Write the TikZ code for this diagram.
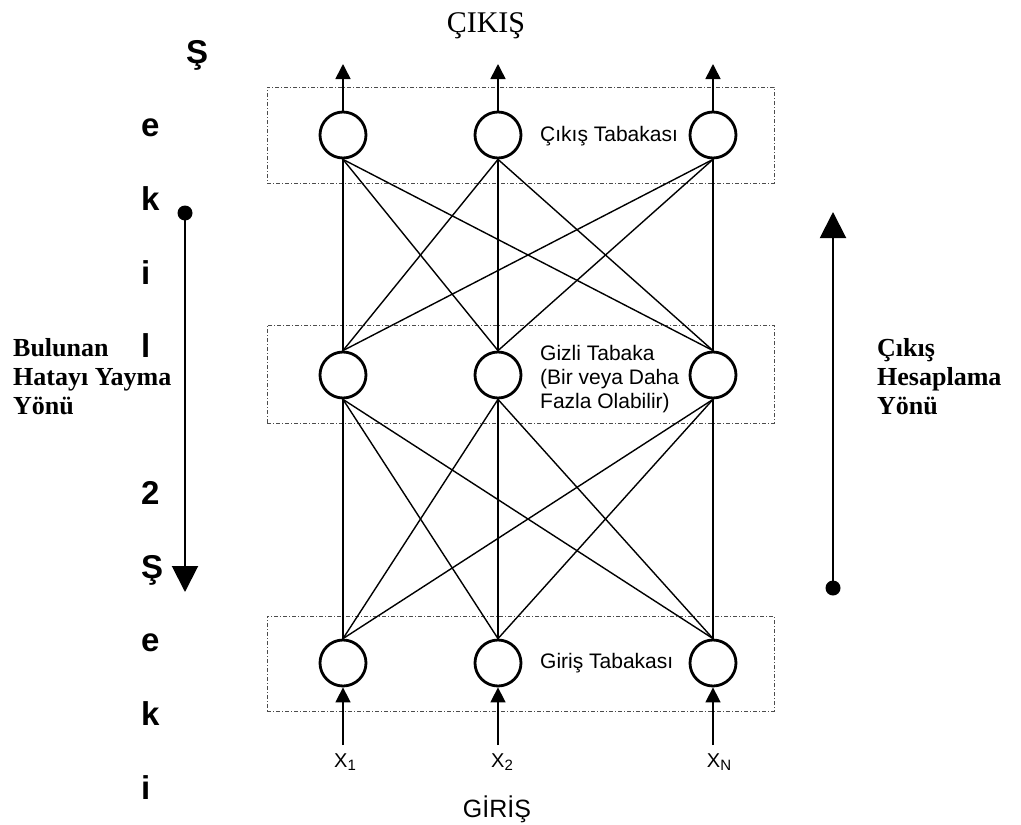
\documentclass[tikz,border=0pt]{standalone}
\usepackage{fontspec}
\setmainfont{Liberation Serif}
\newfontfamily\arialf{Liberation Sans}
\usetikzlibrary{arrows.meta}
\newcommand\lowsub[1]{\raisebox{-3pt}{\fontsize{15}{15}\selectfont #1}}
\begin{document}
\begin{tikzpicture}[x=1pt,y=-1pt,
 neuron/.style={circle,draw,line width=2.8pt,minimum size=46pt,inner sep=0pt,fill=white},
 link/.style={line width=1.4pt},
 layerbox/.style={draw=black!70,line width=0.7pt,dash pattern=on 4pt off 2pt on 1pt off 2pt,minimum width=507pt,inner sep=0pt},
 ioarrow/.style={line width=1.6pt,-{Triangle[length=15pt,width=15pt]}},
 bigarrow/.style={line width=2pt,-{Triangle[length=26pt,width=26pt]}},
 dotnode/.style={circle,fill=black,minimum size=15pt,inner sep=0pt},
 layerlabel/.style={font=\arialf\fontsize{21}{24}\selectfont,anchor=west,align=left,inner sep=0pt},
 xlabel/.style={font=\arialf\fontsize{20}{20}\selectfont,anchor=base,inner sep=0pt},
 vletter/.style={font=\arialf\bfseries\fontsize{33}{33}\selectfont,anchor=base west,inner sep=0pt},
 dirlabel/.style={font=\bfseries\fontsize{26}{29}\selectfont,anchor=north west,align=left,inner sep=0pt},
]
\useasboundingbox (0,0) rectangle (1021,825);

% layer boxes
\node[layerbox,minimum height=96pt] (bo) at (520.5,135) {};
\node[layerbox,minimum height=98pt] (bh) at (520.5,374) {};
\node[layerbox,minimum height=95pt] (bi) at (520.5,663.5) {};

% neurons
\node[neuron] (o1) at (343,135) {};
\node[neuron] (o2) at (498,135) {};
\node[neuron] (o3) at (713,135) {};
\node[neuron] (h1) at (343,375) {};
\node[neuron] (h2) at (498,375) {};
\node[neuron] (h3) at (713,375) {};
\node[neuron] (i1) at (343,663) {};
\node[neuron] (i2) at (498,663) {};
\node[neuron] (i3) at (713,663) {};

% connections
\foreach \a in {o1,o2,o3}{
  \foreach \b in {h1,h2,h3}{
    \draw[link] (\a.south) -- (\b.north);
  }
}
\foreach \a in {h1,h2,h3}{
  \foreach \b in {i1,i2,i3}{
    \draw[link] (\a.south) -- (\b.north);
  }
}

% output arrows
\coordinate (t1) at (343,64);
\coordinate (t2) at (498,64);
\coordinate (t3) at (713,64);
\draw[ioarrow] (o1.north) -- (t1);
\draw[ioarrow] (o2.north) -- (t2);
\draw[ioarrow] (o3.north) -- (t3);

% input arrows
\coordinate (s1) at (343,745);
\coordinate (s2) at (498,745);
\coordinate (s3) at (713,745);
\draw[ioarrow] (s1) -- (i1.south);
\draw[ioarrow] (s2) -- (i2.south);
\draw[ioarrow] (s3) -- (i3.south);

% layer labels
\node[layerlabel] (lo) at (540,136) {Çıkış Tabakası};
\node[layerlabel] (lh) at (540,379) {Gizli Tabaka\\(Bir veya Daha\\Fazla Olabilir)};
\node[layerlabel] (li) at (540,663) {Giriş Tabakası};

% input labels
\node[xlabel] (x1) at (345,767) {X\lowsub{1}};
\node[xlabel] (x2) at (502,767) {X\lowsub{2}};
\node[xlabel] (x3) at (719,767) {X\lowsub{N}};

% titles
\node[font=\fontsize{30}{30}\selectfont,anchor=base,inner sep=0pt] (cikis) at (486,32) {ÇIKIŞ};
\node[font=\arialf\fontsize{25}{25}\selectfont,anchor=base,inner sep=0pt] (giris) at (497,817) {GİRİŞ};

% direction arrows
\node[dotnode] (ld) at (185,213) {};
\coordinate (lt) at (185,592);
\draw[bigarrow] (ld.center) -- (lt);
\node[dotnode] (rd) at (833,588) {};
\coordinate (rt) at (833,212);
\draw[bigarrow] (rd.center) -- (rt);

\node[dirlabel] (ltext) at (13,338) {Bulunan\\Hatayı Yayma\\Yönü};
\node[dirlabel] (rtext) at (877,338) {Çıkış\\Hesaplama\\Yönü};

% vertical caption letters
\node[vletter] (v0) at (186,63) {Ş};
\node[vletter] (v1) at (141,136) {e};
\node[vletter] (v2) at (141,210) {k};
\node[vletter] (v3) at (141,284) {i};
\node[vletter] (v4) at (141,357) {l};
\node[vletter] (v5) at (141,504) {2};
\node[vletter] (v6) at (141,578) {Ş};
\node[vletter] (v7) at (141,651) {e};
\node[vletter] (v8) at (141,725) {k};
\node[vletter] (v9) at (141,799) {i};
\end{tikzpicture}
\end{document}
